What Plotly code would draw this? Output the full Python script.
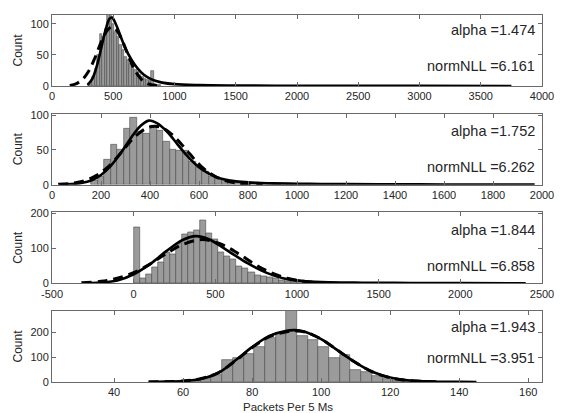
import numpy as np
import plotly.graph_objects as go

# ---------------- data ----------------
# histogram bins: first edge, bin width, counts
h1_start, h1_width = 290, 20
h1_counts = [3, 7, 14, 27, 50, 84, 78, 92, 118, 112, 100, 86, 78, 66, 58, 46, 42, 36,
             32, 26, 22, 18, 15, 12, 9, 8, 24, 3, 2, 1]
h2_start, h2_width = 160, 26.67
h2_counts = [6, 11, 36, 58, 50, 80, 96, 76, 74, 85, 78, 62, 51, 49, 49, 33, 24, 19, 12,
             9, 7, 6, 5, 4, 3, 2, 2, 1, 1]
h3_start, h3_width = 0, 37
h3_counts = [161, 13, 26, 46, 59, 90, 84, 115, 141, 146, 151, 181, 144, 125, 90, 78, 69,
             48, 43, 31, 24, 20, 18, 15, 10, 7, 6, 5, 4, 3, 4, 3, 2, 2, 1]
h4_start, h4_width = 58.9, 3.1
h4_counts = [3, 9, 13, 30, 89, 97, 113, 139, 176, 192, 288, 186, 170, 142, 97, 110, 49,
             40, 23, 13, 5, 2]

# fitted stable pdf (solid) and normal pdf (dashed), scaled to counts
s1_x = [290, 330, 370, 410, 440, 470, 490, 520, 560, 600, 650, 700, 750, 800, 850, 900,
        1000, 1200, 1500, 2000, 2500, 3000, 3750]
s1_y = [2, 12, 35, 68, 92, 108, 110, 100, 80, 60, 42, 28, 18, 12, 8, 5.5, 3, 1.5, 0.8,
        0.4, 0.25, 0.18, 0.1]
d1_x = [145, 200, 250, 300, 350, 400, 450, 490, 530, 580, 630, 680, 730, 780, 830, 880]
d1_y = [1, 4, 10.8, 24, 45, 70, 89, 95, 89, 70, 45, 24, 10.8, 4, 1.2, 0.3]

s2_x = [30, 80, 120, 160, 200, 240, 280, 320, 360, 395, 430, 470, 510, 550, 590, 630, 670,
        710, 750, 800, 850, 900, 1000, 1100, 1200, 1400, 1600, 1800, 1970]
s2_y = [0.5, 1, 2.5, 6, 14, 27, 45, 66, 84, 92, 88, 76, 59, 42, 28, 18, 11, 7, 4.8, 3.3,
        2.5, 1.9, 1.3, 1.0, 0.8, 0.5, 0.35, 0.25, 0.2]
d2_x = [25, 80, 130, 180, 230, 280, 330, 380, 420, 460, 510, 560, 610, 660, 710, 760, 810, 860]
d2_y = [0.6, 2, 5.5, 13, 26, 45, 66, 80, 84, 80, 65, 45, 26, 13, 5.5, 2, 0.7, 0.2]

s3_x = [-300, -200, -100, 0, 100, 200, 300, 380, 460, 540, 620, 700, 780, 860, 940, 1050,
        1200, 1400, 1700, 2000, 2400]
s3_y = [0.5, 2, 8, 26, 55, 92, 124, 135, 126, 104, 80, 57, 37, 22, 12, 6, 3, 1.8, 1, 0.6, 0.4]
d3_x = [-320, -200, -100, 0, 100, 200, 300, 420, 540, 640, 740, 840, 940, 1040, 1140, 1200]
d3_y = [1.6, 5.7, 14.4, 30.5, 55, 85, 111, 125, 111, 85, 55, 30.5, 14.4, 5.7, 2, 1.1]

s4_x = [50, 55, 60, 65, 70, 75, 80, 85, 90, 92.5, 95, 100, 105, 110, 115, 120, 125, 130,
        135, 140, 145]
s4_y = [0.5, 1.5, 4, 12, 35, 85, 140, 185, 206, 208, 203, 172, 125, 78, 40, 18, 7, 2.5, 1,
        0.4, 0.2]
d4_x = [50, 55, 60, 65, 70, 75, 80, 85, 90, 93, 96, 100, 105, 110, 115, 120, 125, 130, 135]
d4_y = [0.3, 1.2, 4, 13, 36, 83, 138, 182, 202, 205, 198, 172, 125, 78, 40, 17, 6, 2, 0.6]

alpha_vals = ["1.474", "1.752", "1.844", "1.943"]
nll_vals = ["6.161", "6.262", "6.858", "3.951"]

x1_ticks = [0, 500, 1000, 1500, 2000, 2500, 3000, 3500, 4000]
x2_ticks = [0, 200, 400, 600, 800, 1000, 1200, 1400, 1600, 1800, 2000]
x3_ticks = [-500, 0, 500, 1000, 1500, 2000, 2500]
x4_ticks = [40, 60, 80, 100, 120, 140, 160]
y1_ticks = [0, 50, 100]
y2_ticks = [0, 50, 100]
y3_ticks = [0, 100, 200]
y4_ticks = [0, 100, 200]

x_label = "Packets Per 5 Ms"
y_label = "Count"

# ---------------- figure ----------------
panels = [
    (h1_start, h1_width, h1_counts, s1_x, s1_y, d1_x, d1_y, x1_ticks, y1_ticks, [0, 4000], [0, 114]),
    (h2_start, h2_width, h2_counts, s2_x, s2_y, d2_x, d2_y, x2_ticks, y2_ticks, [0, 2000], [0, 102]),
    (h3_start, h3_width, h3_counts, s3_x, s3_y, d3_x, d3_y, x3_ticks, y3_ticks, [-500, 2500], [0, 203]),
    (h4_start, h4_width, h4_counts, s4_x, s4_y, d4_x, d4_y, x4_ticks, y4_ticks, [22, 164], [0, 285]),
]

H = 372.0
domains = [[300 / H, 1.0], [200 / H, 272 / H], [100 / H, 172 / H], [0.0, 72 / H]]
text_y = [(0.79, 0.28), (0.76, 0.25), (0.75, 0.24), (0.77, 0.34)]

FONT = "Liberation Sans, Arial, Helvetica, sans-serif"
AX = "#6a6a6a"
TXT = "#262626"

fig = go.Figure()
annotations = []
layout = {}
for i, (hs, hw, hc, sx, sy, dx, dy, xt, yt, xr, yr) in enumerate(panels):
    n = i + 1
    xa = "x" if n == 1 else f"x{n}"
    ya = "y" if n == 1 else f"y{n}"
    centers = hs + hw * (np.arange(len(hc)) + 0.5)
    fig.add_trace(go.Bar(x=centers, y=hc, width=hw, xaxis=xa, yaxis=ya,
                         marker=dict(color="#9b9b9b", line=dict(color="#4a4a4a", width=0.6)),
                         showlegend=False))
    fig.add_trace(go.Scatter(x=sx, y=sy, mode="lines", xaxis=xa, yaxis=ya,
                             line=dict(color="black", width=2.6, shape="spline"),
                             showlegend=False))
    fig.add_trace(go.Scatter(x=dx, y=dy, mode="lines", xaxis=xa, yaxis=ya,
                             line=dict(color="black", width=3, dash="10px,6px", shape="spline"),
                             showlegend=False))
    common = dict(showline=True, linecolor=AX, linewidth=1, mirror="ticks",
                  ticks="inside", ticklen=4, tickcolor=AX, showgrid=False,
                  zeroline=False, tickfont=dict(size=11, color=TXT, family=FONT))
    layout["xaxis" if n == 1 else f"xaxis{n}"] = dict(
        common, domain=[0, 1], range=xr, anchor=ya, tickvals=xt,
        ticktext=[str(v) for v in xt])
    layout["yaxis" if n == 1 else f"yaxis{n}"] = dict(
        common, domain=domains[i], range=yr, anchor=xa, tickvals=yt,
        ticktext=[str(v) for v in yt])
    ty_a, ty_n = text_y[i]
    annotations.append(dict(xref=f"{xa} domain", yref=f"{ya} domain", x=0.99, y=ty_a,
                            xanchor="right", yanchor="middle", showarrow=False,
                            text=f"alpha ={alpha_vals[i]}",
                            font=dict(size=14.5, color=TXT, family=FONT)))
    annotations.append(dict(xref=f"{xa} domain", yref=f"{ya} domain", x=0.99, y=ty_n,
                            xanchor="right", yanchor="middle", showarrow=False,
                            text=f"normNLL ={nll_vals[i]}",
                            font=dict(size=14.5, color=TXT, family=FONT)))
    annotations.append(dict(xref="paper", yref=f"{ya} domain", x=0, y=0.5, xshift=-34,
                            xanchor="center", yanchor="middle", showarrow=False,
                            textangle=-90, text=y_label,
                            font=dict(size=12, color=TXT, family=FONT)))

annotations.append(dict(xref="paper", yref="paper", x=0.481, y=0, yshift=-25,
                        xanchor="center", yanchor="middle", showarrow=False,
                        text=x_label, font=dict(size=11.5, color=TXT, family=FONT)))

fig.update_layout(**layout)
fig.update_layout(
    width=564, height=413,
    margin=dict(l=52, r=16, t=10, b=31),
    paper_bgcolor="white", plot_bgcolor="white",
    barmode="overlay", bargap=0,
    annotations=annotations,
    font=dict(family=FONT, color=TXT),
)

fig.write_html("out.html")
